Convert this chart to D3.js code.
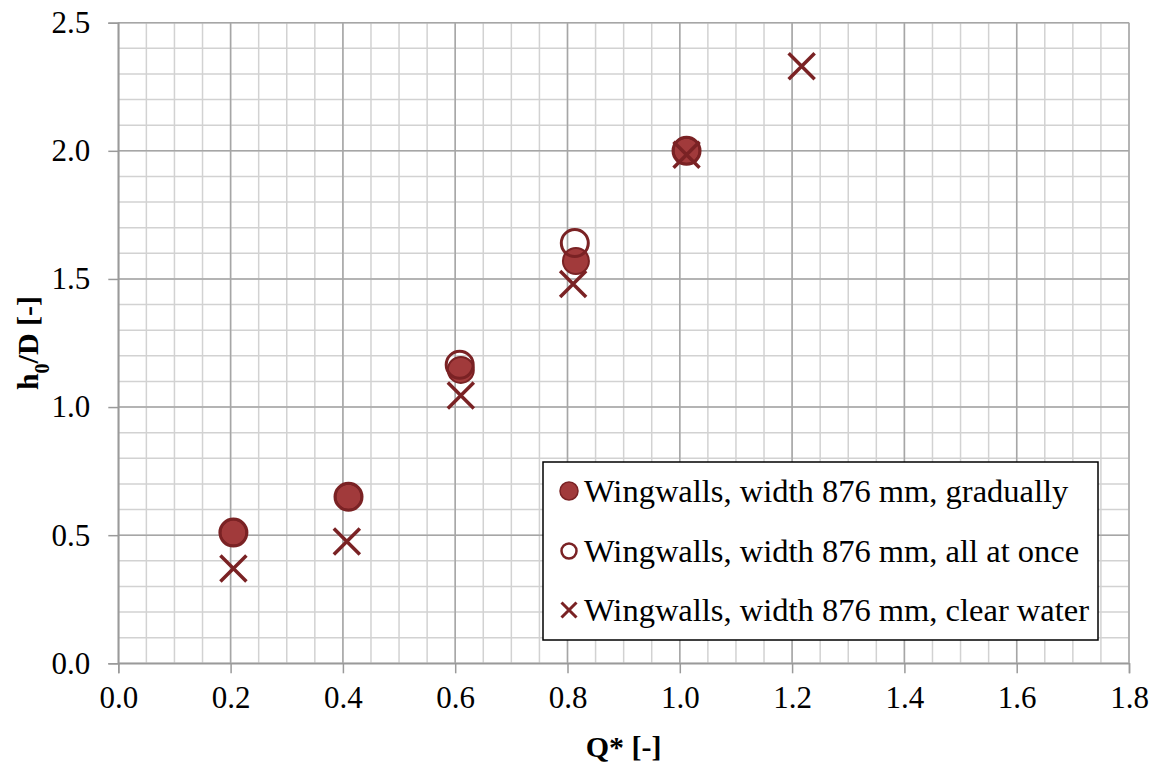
<!DOCTYPE html>
<html>
<head>
<meta charset="utf-8">
<script src="https://cdn.jsdelivr.net/npm/d3@7"></script>
<style>
  html, body { margin: 0; padding: 0; background: #fff; }
  svg { display: block; }
</style>
</head>
<body>
<svg id="chart" width="1158" height="769"></svg>
<script>
// Measured points: Q* against h0/D for the three wingwall runs
const gradualQ = [0.205, 0.41, 0.61, 0.815, 1.012];
const gradualH = [0.51, 0.65, 1.145, 1.57, 2.0];

const allAtOnceQ = [0.205, 0.41, 0.608, 0.813, 1.012];
const allAtOnceH = [0.51, 0.65, 1.165, 1.64, 2.0];

const clearWaterQ = [0.205, 0.407, 0.61, 0.81, 1.012, 1.217];
const clearWaterH = [0.37, 0.475, 1.045, 1.48, 1.985, 2.33];

const seriesNames = [
  "Wingwalls, width 876 mm, gradually",
  "Wingwalls, width 876 mm, all at once",
  "Wingwalls, width 876 mm, clear water"
];

const xTicks = [0.0, 0.2, 0.4, 0.6, 0.8, 1.0, 1.2, 1.4, 1.6, 1.8];
const yTicks = [0.0, 0.5, 1.0, 1.5, 2.0, 2.5];

const W = 1158, H = 769;
const margin = { left: 118.3, right: 29, top: 22.7, bottom: 105.7 };
const FONT = '"Liberation Serif"';

const fillColor = "#A13A3B";
const edgeColor = "#7A2224";

const svg = d3.select("#chart");

const x = d3.scaleLinear().domain([0, 1.8]).range([margin.left, W - margin.right]);
const y = d3.scaleLinear().domain([0, 2.5]).range([H - margin.bottom, margin.top]);

// Minor grid
const xMinor = d3.range(0, 1.8001, 0.05);
const yMinor = d3.range(0, 2.5001, 0.1);
const grid = svg.append("g");
grid.selectAll("line.xm").data(xMinor).join("line")
  .attr("x1", d => x(d)).attr("x2", d => x(d))
  .attr("y1", y(0)).attr("y2", y(2.5))
  .attr("stroke", "#D2D2D2").attr("stroke-width", 1.5);
grid.selectAll("line.ym").data(yMinor).join("line")
  .attr("y1", d => y(d)).attr("y2", d => y(d))
  .attr("x1", x(0)).attr("x2", x(1.8))
  .attr("stroke", "#D2D2D2").attr("stroke-width", 1.5);

// Major grid
grid.selectAll("line.xM").data(xTicks).join("line")
  .attr("x1", d => x(d)).attr("x2", d => x(d))
  .attr("y1", y(0)).attr("y2", y(2.5))
  .attr("stroke", "#A6A6A6").attr("stroke-width", 1.5);
grid.selectAll("line.yM").data(yTicks).join("line")
  .attr("y1", d => y(d)).attr("y2", d => y(d))
  .attr("x1", x(0)).attr("x2", x(1.8))
  .attr("stroke", "#A6A6A6").attr("stroke-width", 1.5);

// Axes
const xAxis = d3.axisBottom(x).tickValues(xTicks).tickFormat(d3.format(".1f"))
  .tickSize(10).tickPadding(13);
const yAxis = d3.axisLeft(y).tickValues(yTicks).tickFormat(d3.format(".1f"))
  .tickSize(10).tickPadding(18);

const gx = svg.append("g").attr("transform", `translate(0,${y(0)})`).call(xAxis);
const gy = svg.append("g").attr("transform", `translate(${x(0)},0)`).call(yAxis);
[gx, gy].forEach(g => {
  g.attr("font-family", null).attr("font-size", null);
  g.select(".domain").attr("stroke", "#9A9A9A").attr("stroke-width", 1.5);
  g.selectAll(".tick line").attr("stroke", "#9A9A9A").attr("stroke-width", 1.5);
  g.selectAll(".tick text")
    .style("font-family", FONT)
    .style("font-size", "31px").attr("fill", "#000");
});

// Axis titles
svg.append("text")
  .attr("x", (x(0) + x(1.8)) / 2).attr("y", 757)
  .attr("text-anchor", "middle")
  .style("font-family", FONT)
  .style("font-size", "30px").style("font-weight", "bold")
  .text("Q* [-]");

const yt = svg.append("text")
  .attr("transform", `translate(38,${(y(0) + y(2.5)) / 2}) rotate(-90)`)
  .attr("text-anchor", "middle")
  .style("font-family", FONT)
  .style("font-size", "30px").style("font-weight", "bold");
yt.append("tspan").text("h");
yt.append("tspan").attr("baseline-shift", "sub").style("font-size", "20px").text("0");
yt.append("tspan").text("/D [-]");

// Marker helpers
function crossPath(s) {
  return `M${-s},${-s}L${s},${s}M${-s},${s}L${s},${-s}`;
}

const pts1 = gradualQ.map((q, i) => [q, gradualH[i]]);
const pts2 = allAtOnceQ.map((q, i) => [q, allAtOnceH[i]]);
const pts3 = clearWaterQ.map((q, i) => [q, clearWaterH[i]]);

svg.append("g").selectAll("circle").data(pts1).join("circle")
  .attr("cx", d => x(d[0])).attr("cy", d => y(d[1])).attr("r", 13)
  .attr("fill", fillColor).attr("stroke", edgeColor).attr("stroke-width", 2);

svg.append("g").selectAll("circle").data(pts2).join("circle")
  .attr("cx", d => x(d[0])).attr("cy", d => y(d[1])).attr("r", 13.5)
  .attr("fill", "none").attr("stroke", edgeColor).attr("stroke-width", 3);

svg.append("g").selectAll("path").data(pts3).join("path")
  .attr("transform", d => `translate(${x(d[0])},${y(d[1])})`)
  .attr("d", crossPath(13))
  .attr("fill", "none").attr("stroke", edgeColor).attr("stroke-width", 3.5);

// Legend
const lg = svg.append("g");
lg.append("rect").attr("x", 543).attr("y", 462).attr("width", 555).attr("height", 178)
  .attr("fill", "#fff").attr("stroke", "#000").attr("stroke-width", 1.5);
const rowY = [491, 551, 610];
const mx = 569;
lg.append("circle").attr("cx", mx).attr("cy", rowY[0]).attr("r", 9)
  .attr("fill", fillColor).attr("stroke", edgeColor).attr("stroke-width", 1.5);
lg.append("circle").attr("cx", mx).attr("cy", rowY[1]).attr("r", 7.5)
  .attr("fill", "none").attr("stroke", edgeColor).attr("stroke-width", 2.5);
lg.append("path").attr("transform", `translate(${mx},${rowY[2]})`).attr("d", crossPath(7.5))
  .attr("fill", "none").attr("stroke", edgeColor).attr("stroke-width", 3);
lg.selectAll("text.lab").data(seriesNames).join("text")
  .attr("class", "lab")
  .attr("x", 584).attr("y", (d, i) => rowY[i])
  .attr("dy", "0.33em")
  .style("font-family", FONT)
  .style("font-size", "32.5px")
  .attr("fill", "#000")
  .text(d => d);
</script>
</body>
</html>
